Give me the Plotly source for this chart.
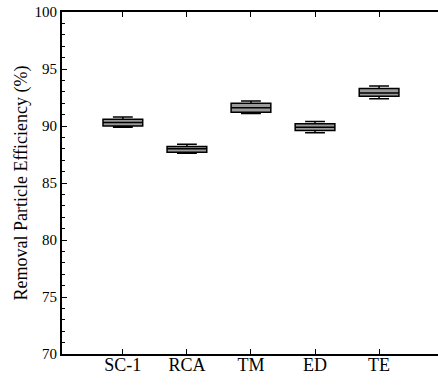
import plotly.graph_objects as go

categories = ["SC-1", "RCA", "TM", "ED", "TE"]
lower = [89.9, 87.6, 91.1, 89.4, 92.4]
q1 = [90.0, 87.7, 91.2, 89.6, 92.6]
median = [90.3, 88.0, 91.6, 89.9, 92.9]
q3 = [90.6, 88.2, 92.0, 90.2, 93.3]
upper = [90.8, 88.4, 92.2, 90.4, 93.5]
y_ticks = [70, 75, 80, 85, 90, 95, 100]

fig = go.Figure()
fig.add_trace(go.Box(
    x=categories, lowerfence=lower, q1=q1, median=median, q3=q3, upperfence=upper,
    fillcolor="#9a9a9a", line=dict(color="black", width=1.5),
    width=0.62, whiskerwidth=0.5, showlegend=False, hoverinfo="skip",
))

fam = "'Liberation Serif', 'Times New Roman', serif"
fig.update_layout(
    width=438, height=389,
    margin=dict(l=62, r=0, t=12, b=35),
    paper_bgcolor="white", plot_bgcolor="white",
    font=dict(family=fam, color="black", size=15),
    xaxis=dict(
        type="category", range=[-0.95, 4.92],
        showline=True, linecolor="black", linewidth=2, mirror="ticks",
        ticks="inside", ticklen=5, tickcolor="black", showgrid=False,
        ticklabelstandoff=-7,
        tickfont=dict(family=fam, color="black", size=18),
    ),
    yaxis=dict(
        range=[70, 100], tickvals=y_ticks,
        showline=True, linecolor="black", linewidth=2,
        ticks="inside", ticklen=5, tickcolor="black", showgrid=False, zeroline=False,
        minor=dict(dtick=1, ticks="inside", ticklen=3, tickcolor="black"),
        tickfont=dict(family=fam, color="black", size=15),
        title=dict(text="Removal Particle Efficiency (%)",
                   font=dict(family=fam, color="black", size=18), standoff=2),
    ),
)
fig.write_html("out.html", config={"displayModeBar": False},
               post_script="document.body.style.margin='0';")
